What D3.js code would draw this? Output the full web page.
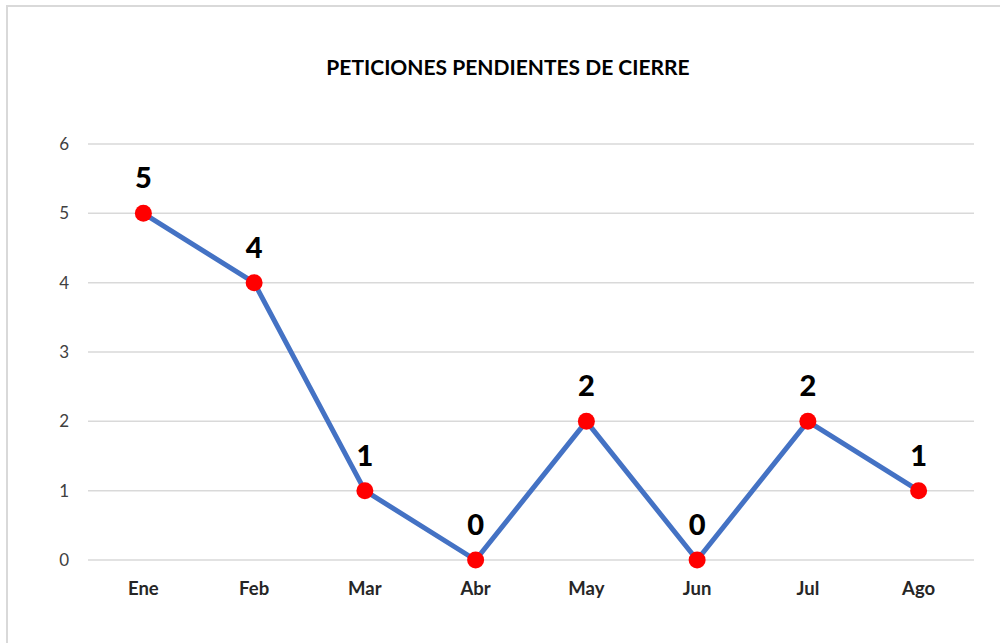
<!DOCTYPE html>
<html>
<head>
<meta charset="utf-8">
<script src="https://cdn.jsdelivr.net/npm/d3@7"></script>
<style>
  html, body { margin: 0; padding: 0; background: #fff; }
  svg { display: block; }
</style>
</head>
<body>
<svg id="chart" width="1000" height="643"></svg>
<script>
const title = "PETICIONES PENDIENTES DE CIERRE";
const months = ["Ene", "Feb", "Mar", "Abr", "May", "Jun", "Jul", "Ago"];
const values = [5, 4, 1, 0, 2, 0, 2, 1];
const yTicks = [0, 1, 2, 3, 4, 5, 6];

const svg = d3.select("#chart");
const font = "Lato, Carlito, 'Open Sans', sans-serif";

// chart border
svg.append("rect")
  .attr("x", 7).attr("y", 6)
  .attr("width", 1010).attr("height", 660)
  .attr("fill", "#fff")
  .attr("stroke", "#d9d9d9").attr("stroke-width", 2);

const plot = { left: 88, right: 974, top: 144, bottom: 560 };

const x = d3.scaleBand().domain(months).range([plot.left, plot.right]).padding(0);
const y = d3.scaleLinear().domain([0, 6]).range([plot.bottom, plot.top]);

// gridlines
svg.append("g")
  .selectAll("line")
  .data(yTicks)
  .join("line")
  .attr("x1", plot.left).attr("x2", plot.right)
  .attr("y1", d => y(d)).attr("y2", d => y(d))
  .attr("stroke", "#d9d9d9").attr("stroke-width", 1.5);

// y axis labels
const yAxis = svg.append("g")
  .attr("transform", `translate(${plot.left - 19},0)`)
  .call(d3.axisLeft(y).tickValues(yTicks).tickFormat(d3.format("d")).tickSize(0).tickPadding(0));
yAxis.select(".domain").remove();
yAxis.selectAll("text")
  .attr("font-family", font).attr("font-size", 17)
  .attr("fill", "#404040");

// x axis labels
const xAxis = svg.append("g")
  .attr("transform", `translate(0,${plot.bottom + 22})`)
  .call(d3.axisBottom(x).tickSize(0).tickPadding(0));
xAxis.select(".domain").remove();
xAxis.selectAll("text")
  .attr("font-family", font).attr("font-size", 18.5)
  .attr("font-weight", "bold")
  .attr("fill", "#262626");

const cx = d => x(d) + x.bandwidth() / 2;
const data = months.map((m, i) => ({ m, v: values[i] }));

// line
svg.append("path")
  .datum(data)
  .attr("fill", "none")
  .attr("stroke", "#4472C4")
  .attr("stroke-width", 5)
  .attr("stroke-linejoin", "round")
  .attr("d", d3.line().x(d => cx(d.m)).y(d => y(d.v)));

// markers
svg.append("g")
  .selectAll("circle")
  .data(data)
  .join("circle")
  .attr("cx", d => cx(d.m)).attr("cy", d => y(d.v))
  .attr("r", 8.5)
  .attr("fill", "#FF0000");

// data labels
svg.append("g")
  .selectAll("text")
  .data(data)
  .join("text")
  .attr("x", d => cx(d.m)).attr("y", d => y(d.v) - 25)
  .attr("text-anchor", "middle")
  .attr("font-family", font).attr("font-size", 29)
  .attr("font-weight", 900)
  .attr("fill", "#000")
  .text(d => d.v);

// title
svg.append("text")
  .attr("x", 508).attr("y", 75)
  .attr("text-anchor", "middle")
  .attr("font-family", font).attr("font-size", 21)
  .attr("font-weight", "bold")
  .attr("fill", "#000")
  .text(title);
</script>
</body>
</html>
